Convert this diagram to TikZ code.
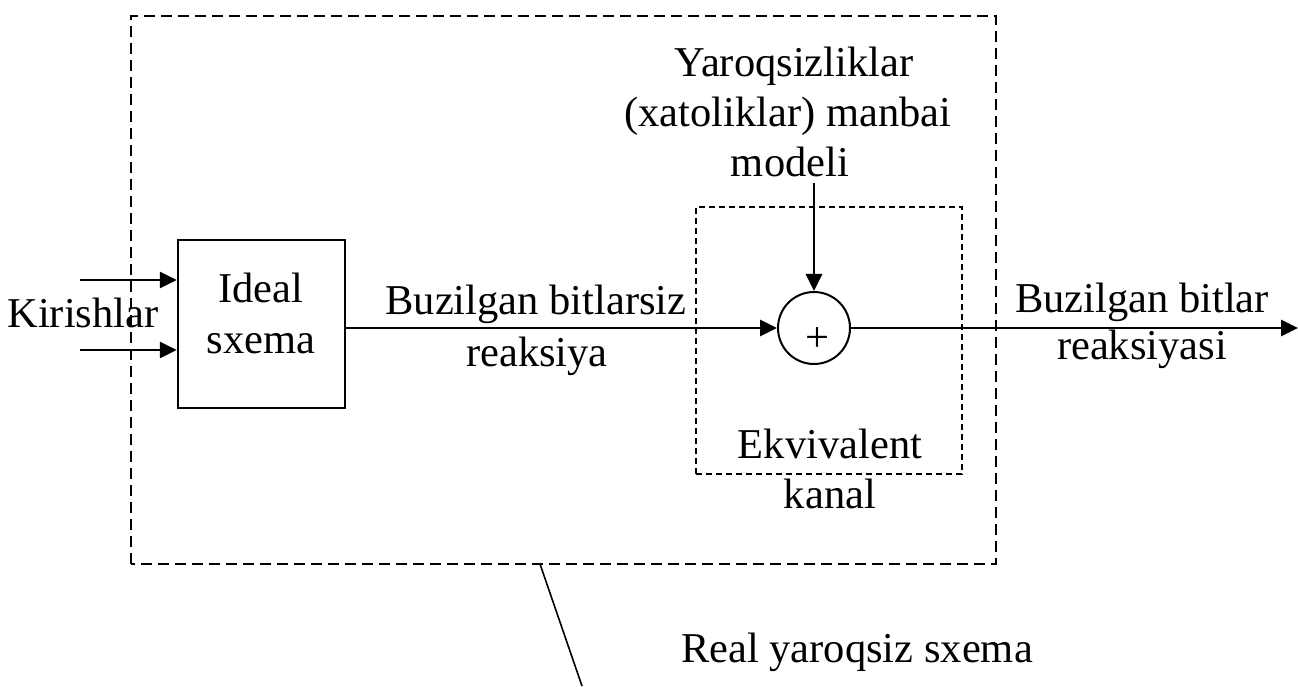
\documentclass[tikz,border=0pt]{standalone}
\usepackage{fontspec}
\setmainfont{Liberation Serif}
\usetikzlibrary{positioning, arrows.meta}

\begin{document}
\begin{tikzpicture}[x=1pt, y=1pt,
    every node/.style={font=\fontsize{42.5}{50}\selectfont, inner sep=0pt},
    lbl/.style={anchor=base},
    block/.style={draw, line width=2.5pt, minimum width=167pt, minimum height=168pt},
    summer/.style={draw, circle, line width=2pt, minimum size=72pt},
    conn/.style={line width=2.8pt, -{Triangle[length=17pt, width=16pt]}},
    frame/.style={line width=2pt, dash pattern=on 11pt off 6pt},
    inframe/.style={line width=1.8pt, dash pattern=on 6pt off 4pt}]
  \useasboundingbox (0,0) rectangle (1298,686);

  % frames
  \draw [frame] (131,122) rectangle (996,670);
  \draw [inframe] (696,212) rectangle (962,479);

  % blocks
  \node [block] (ideal) at (261.5,362) {};
  \node [lbl] (idealA) at (261,383) {Ideal};
  \node [lbl] (idealB) at (261,332) {sxema};
  \node [summer] (sum) at (814,358) {};
  \node (plus) at (817,347) {+};

  % source of faults
  \node [lbl] (srcA) at (794,609) {Yaroqsizliklar};
  \node [lbl] (srcB) at (788,559) {(xatoliklar) manbai};
  \node [lbl] (srcC) at (790,509) {modeli};
  \coordinate (srcb) at (814,503);

  % inputs
  \coordinate (in1) at (80,406);
  \coordinate (in2) at (80,336);
  \draw [conn] (in1) -- (in1 -| ideal.west);
  \draw [conn] (in2) -- (in2 -| ideal.west);
  \node [lbl] (kir) at (83,358) {Kirishlar};

  % signal path
  \draw [conn] (ideal.east |- sum.west) -- (sum.west);
  \draw [conn] (srcb) -- (sum.north);
  \coordinate (out) at (1298,358);
  \draw [conn] (sum.east) -- (out);

  % labels
  \node [lbl] (lab1) at (536,371) {Buzilgan bitlarsiz};
  \node [lbl] (lab2) at (537,319) {reaksiya};
  \node [lbl] (lab3) at (1142,373) {Buzilgan bitlar};
  \node [lbl] (lab4) at (1142,326) {reaksiyasi};
  \node [lbl] (ekvA) at (830,228) {Ekvivalent};
  \node [lbl] (ekvB) at (830,178) {kanal};

  % caption
  \coordinate (tick) at (540,122);
  \coordinate (tickend) at (582,0);
  \draw [line width=1.6pt] (tick) -- (tickend);
  \node [lbl] (real) at (857,24) {Real yaroqsiz sxema};
\end{tikzpicture}
\end{document}
